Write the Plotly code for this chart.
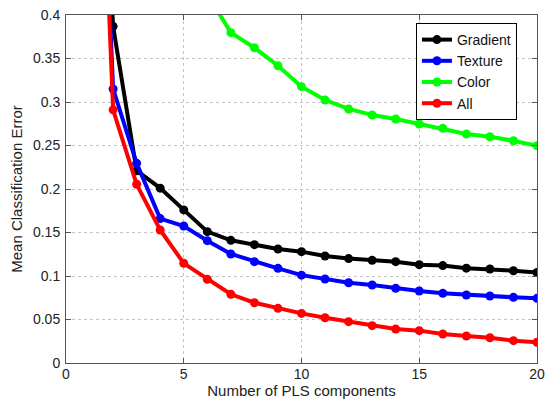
import plotly.graph_objects as go

x_all = list(range(1, 21))
gradient = [0.90, 0.387, 0.221, 0.201, 0.176, 0.151, 0.141, 0.136, 0.131, 0.128,
            0.123, 0.120, 0.118, 0.1165, 0.113, 0.112, 0.109, 0.108, 0.106, 0.104]
texture = [0.95, 0.315, 0.2295, 0.166, 0.1575, 0.1406, 0.1253, 0.1165, 0.1088, 0.101,
           0.0966, 0.0923, 0.0897, 0.0858, 0.0828, 0.0801, 0.0782, 0.077, 0.0755, 0.0743]
x_color = list(range(6, 21))
color = [0.424, 0.3797, 0.3624, 0.3417, 0.3176, 0.3023, 0.292, 0.285, 0.2805, 0.2747,
         0.2697, 0.2632, 0.260, 0.2555, 0.2498]
all_feat = [0.95, 0.291, 0.2054, 0.1529, 0.1146, 0.0962, 0.079, 0.0693, 0.0628, 0.057,
            0.052, 0.0475, 0.0429, 0.039, 0.0372, 0.0333, 0.031, 0.029, 0.0257, 0.0238]

y_tickvals = [0, 0.05, 0.1, 0.15, 0.2, 0.25, 0.3, 0.35, 0.4]
y_ticktext = ["0", "0.05", "0.1", "0.15", "0.2", "0.25", "0.3", "0.35", "0.4"]
x_tickvals = [0, 5, 10, 15, 20]

series = [
    ("Gradient", x_all, gradient, "#000000"),
    ("Texture", x_all, texture, "#0000ff"),
    ("Color", x_color, color, "#00ff00"),
    ("All", x_all, all_feat, "#ff0000"),
]

fig = go.Figure()
for name, xs, ys, c in series:
    fig.add_trace(go.Scatter(
        x=xs, y=ys, name=name, mode="lines+markers",
        line=dict(color=c, width=4),
        marker=dict(color=c, size=9),
    ))

axis_common = dict(
    showline=True, mirror="ticks", linecolor="#555555", linewidth=1,
    ticks="inside", ticklen=5, tickcolor="#555555",
    showgrid=True, gridcolor="#c4c4c4", griddash="dot", gridwidth=1,
    zeroline=False, automargin=False,
    tickfont=dict(size=14, color="#222222"),
)

fig.update_layout(
    width=545, height=403,
    margin=dict(l=66, r=8, t=15, b=40),
    paper_bgcolor="white", plot_bgcolor="white",
    font=dict(family="Liberation Sans, Arial, sans-serif", color="#222222"),
    xaxis=dict(range=[0, 20], tickvals=x_tickvals, ticklabelstandoff=-2,
               title=dict(text="Number of PLS components", font=dict(size=15), standoff=0),
               **axis_common),
    yaxis=dict(range=[0, 0.4], tickvals=y_tickvals, ticktext=y_ticktext, ticklabelstandoff=2,
               title=dict(text="Mean Classification Error", font=dict(size=15), standoff=6),
               **axis_common),
    legend=dict(x=0.743, y=0.977, xanchor="left", yanchor="top",
                bgcolor="white", bordercolor="#000000", borderwidth=1,
                font=dict(size=14, color="#111111"), tracegroupgap=0,
                itemwidth=30),
    showlegend=True,
)

fig.write_html("out.html", config={"displayModeBar": False},
               post_script="document.body.style.margin='0';document.body.style.overflow='hidden';")
